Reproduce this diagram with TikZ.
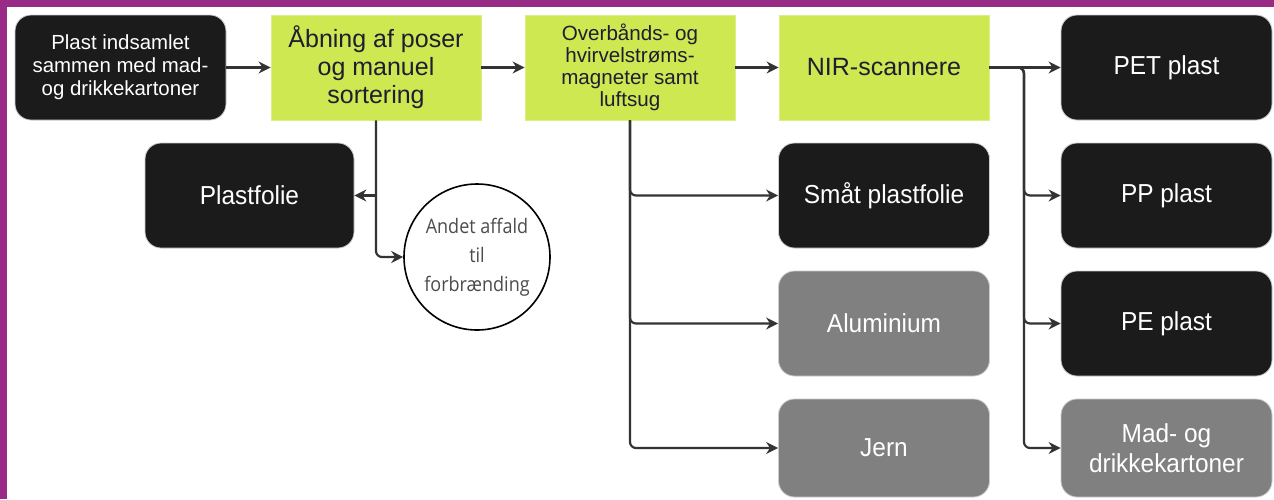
\documentclass[tikz,border=0pt]{standalone}
\usepackage{fontspec}
\setmainfont{Liberation Sans}
\newfontfamily\narrowsans[FakeStretch=0.94]{Liberation Sans}
\newfontfamily\opensans[FakeStretch=0.9]{Open Sans}
\usetikzlibrary{arrows.meta}
\definecolor{frame}{RGB}{151,43,134}
\definecolor{lime}{RGB}{205,232,80}
\definecolor{blk}{RGB}{27,27,27}
\definecolor{gry}{RGB}{128,128,128}
\definecolor{ink}{RGB}{30,30,50}
\definecolor{arrcol}{RGB}{51,51,51}
\tikzset{
  darkbox/.style={draw=black!20, line width=0.8pt, fill=blk, rounded corners=16pt, text=white,
    minimum width=211pt, minimum height=105pt, align=center, inner sep=0pt,
    font=\narrowsans\fontsize{26}{30}\selectfont},
  greybox/.style={darkbox, fill=gry},
  limebox/.style={draw=lime!70!white, line width=0.8pt, fill=lime, text=ink,
    minimum width=210pt, minimum height=105pt, align=center, inner sep=0pt},
  wastecircle/.style={circle, draw=black, line width=1.6pt, fill=white, minimum size=146pt, inner sep=0pt,
    align=center, text=black!70, font=\opensans\fontsize{20}{29}\selectfont},
  arr/.style={draw=arrcol, line width=2.2pt, -{Stealth[length=12pt,width=12pt]}},
}
\begin{document}
\begin{tikzpicture}[x=1pt,y=-1pt]
\useasboundingbox (0,0) rectangle (1274,499);
\fill[white] (0,0) rectangle (1274,499);
\fill[frame] (0,0) rectangle (1274,7);
\fill[frame] (0,0) rectangle (7,499);

\node[darkbox, font=\fontsize{20.4}{23}\selectfont] (src) at (120.5,67.5) {Plast indsamlet\\sammen med mad-\\og drikkekartoner};
\node[limebox, font=\fontsize{25}{28}\selectfont] (open) at (376,67.5) {Åbning af poser\\og manuel\\sortering};
\node[limebox, font=\fontsize{20.6}{22}\selectfont] (mag) at (630,67.5) {Overbånds- og\\hvirvelstrøms-\\magneter samt\\luftsug};
\node[limebox, font=\fontsize{25}{28}\selectfont] (nir) at (884,67.5) {NIR-scannere};
\node[darkbox] (pet) at (1166.5,67.5) {PET plast};

\node[darkbox, minimum width=209pt] (folie) at (249.5,195.5) {Plastfolie};
\node[wastecircle] (burn) at (477,257) {Andet affald\\til\\forbrænding};

\node[darkbox] (small) at (884,195.5) {Småt plastfolie};
\node[greybox] (alu) at (884,323.5) {Aluminium};
\node[greybox, minimum height=98pt] (iron) at (884,448) {Jern};

\node[darkbox] (pp) at (1166.5,195.5) {PP plast};
\node[darkbox] (pe) at (1166.5,323.5) {PE plast};
\node[greybox, minimum height=98pt] (carton) at (1166.5,448) {Mad- og\\drikkekartoner};

\coordinate (t4) at (1024,67.5);

\draw[arr] (src) -- (open);
\draw[arr] (open) -- (mag);
\draw[arr] (mag) -- (nir);
\draw[arr] (nir) -- (pet);

\draw[arr, rounded corners=6pt] (open.south) |- (burn.west);
\draw[arr] (open.south |- folie.east) -- (folie.east);

\draw[arr, rounded corners=6pt] (mag.south) |- (small.west);
\draw[arr, rounded corners=6pt] (mag.south) |- (alu.west);
\draw[arr, rounded corners=6pt] (mag.south) |- (iron.west);

\draw[arr, rounded corners=6pt] (nir.east) -- (t4) |- (pp.west);
\draw[arr, rounded corners=6pt] (nir.east) -- (t4) |- (pe.west);
\draw[arr, rounded corners=6pt] (nir.east) -- (t4) |- (carton.west);
\end{tikzpicture}
\end{document}
